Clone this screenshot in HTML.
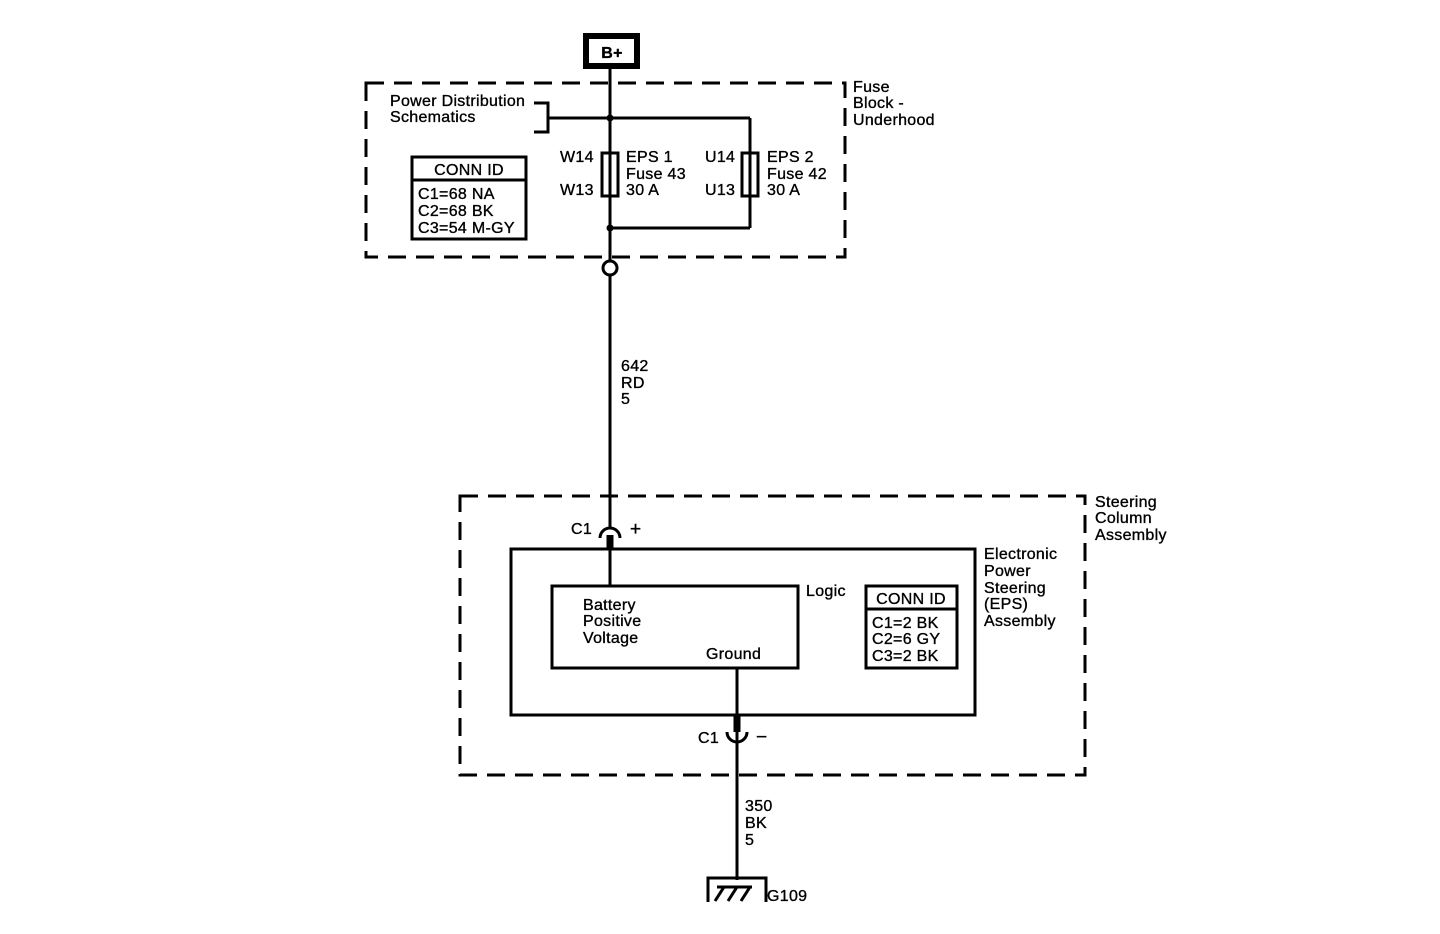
<!DOCTYPE html>
<html><head><meta charset="utf-8"><style>
html,body{margin:0;padding:0;background:#fff;}
svg{display:block;}
text{font-family:"Liberation Sans",sans-serif;font-size:16px;fill:#000;stroke:#000;stroke-width:0.35;letter-spacing:0.3px;}
</style></head><body>
<svg width="1440" height="934" viewBox="0 0 1440 934" xmlns="http://www.w3.org/2000/svg">
<g fill="none" stroke="#000" stroke-width="3">
<rect x="586" y="36" width="51" height="30" stroke-width="6"/>
<rect x="366" y="83" width="479" height="174" stroke-dasharray="18,10"/>
<line x1="610" y1="66" x2="610" y2="260"/>
<circle cx="610" cy="268" r="7" stroke-width="3"/>
<line x1="610" y1="275" x2="610" y2="528"/>
<polyline points="534,103 548,103 548,132 534,132"/>
<line x1="548" y1="118" x2="750" y2="118"/>
<line x1="750" y1="118" x2="750" y2="228"/>
<line x1="610" y1="228" x2="750" y2="228"/>
<rect x="602" y="153" width="16" height="43" fill="#fff"/>
<rect x="742" y="153" width="16" height="43" fill="#fff"/>
<line x1="610" y1="150" x2="610" y2="200"/>
<line x1="750" y1="150" x2="750" y2="200"/>
<rect x="412" y="157" width="114" height="82"/>
<line x1="412" y1="180" x2="526" y2="180"/>
<rect x="460" y="496" width="625" height="279" stroke-dasharray="18,10"/>
<path d="M600 538 A10 10 0 0 1 620 538"/>
<line x1="610" y1="535" x2="610" y2="550" stroke-width="7"/>
<rect x="511" y="549" width="464" height="166"/>
<line x1="610" y1="549" x2="610" y2="586"/>
<rect x="552" y="586" width="246" height="82"/>
<rect x="866" y="586" width="91" height="82"/>
<line x1="866" y1="609" x2="957" y2="609"/>
<line x1="737" y1="668" x2="737" y2="880"/>
<line x1="737" y1="715" x2="737" y2="732" stroke-width="7"/>
<path d="M727 732 A10 10 0 0 0 747 732"/>
<polyline points="708,902 708,878 766,878 766,902"/>
<line x1="715" y1="901" x2="724" y2="887"/>
<line x1="728" y1="901" x2="737" y2="887"/>
<line x1="741" y1="901" x2="750" y2="887"/>
<line x1="717" y1="887" x2="752" y2="887"/>
</g>
<circle cx="610" cy="118" r="3.5"/>
<circle cx="610" cy="228" r="3.5"/>
<text x="612" y="58" text-anchor="middle" font-weight="bold">B+</text>
<text x="390" y="106">Power Distribution</text>
<text x="390" y="122">Schematics</text>
<text x="853" y="92">Fuse</text>
<text x="853" y="108">Block -</text>
<text x="853" y="125">Underhood</text>
<text x="560" y="162">W14</text>
<text x="560" y="195">W13</text>
<text x="626" y="162">EPS 1</text>
<text x="626" y="179">Fuse 43</text>
<text x="626" y="195">30 A</text>
<text x="705" y="162">U14</text>
<text x="705" y="195">U13</text>
<text x="767" y="162">EPS 2</text>
<text x="767" y="179">Fuse 42</text>
<text x="767" y="195">30 A</text>
<text x="469" y="175" text-anchor="middle">CONN ID</text>
<text x="418" y="199">C1=68 NA</text>
<text x="418" y="216">C2=68 BK</text>
<text x="418" y="233">C3=54 M-GY</text>
<text x="621" y="371">642</text>
<text x="621" y="388">RD</text>
<text x="621" y="404">5</text>
<text x="1095" y="507">Steering</text>
<text x="1095" y="523">Column</text>
<text x="1095" y="540">Assembly</text>
<text x="571" y="534">C1</text>
<text x="630" y="535" style="font-size:19px">+</text>
<text x="984" y="559">Electronic</text>
<text x="984" y="576">Power</text>
<text x="984" y="593">Steering</text>
<text x="984" y="609">(EPS)</text>
<text x="984" y="626">Assembly</text>
<text x="806" y="596">Logic</text>
<text x="583" y="610">Battery</text>
<text x="583" y="626">Positive</text>
<text x="583" y="643">Voltage</text>
<text x="706" y="659">Ground</text>
<text x="911" y="604" text-anchor="middle">CONN ID</text>
<text x="872" y="628">C1=2 BK</text>
<text x="872" y="644">C2=6 GY</text>
<text x="872" y="661">C3=2 BK</text>
<text x="698" y="743">C1</text>
<text x="756" y="743" style="font-size:19px">−</text>
<text x="745" y="811">350</text>
<text x="745" y="828">BK</text>
<text x="745" y="845">5</text>
<text x="767" y="901">G109</text>
</svg>
</body></html>
